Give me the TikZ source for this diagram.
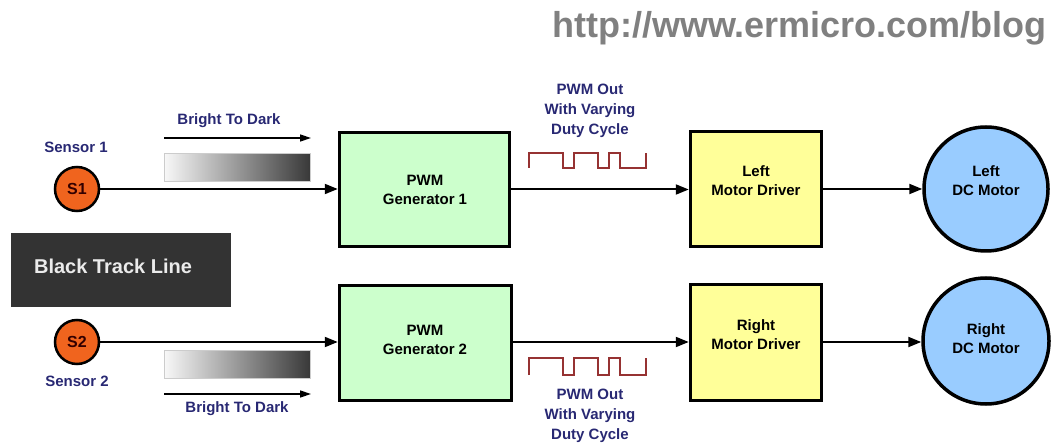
\documentclass[tikz,border=0pt]{standalone}
\usepackage{fontspec}
\setmainfont{Liberation Sans}
\usetikzlibrary{arrows.meta}
\definecolor{navytext}{RGB}{40,40,115}
\definecolor{sensorfill}{RGB}{240,100,30}
\definecolor{genfill}{RGB}{204,255,204}
\definecolor{drvfill}{RGB}{255,255,153}
\definecolor{motorfill}{RGB}{153,204,255}
\definecolor{trackfill}{RGB}{51,51,51}
\definecolor{wavecol}{RGB}{150,50,50}
\definecolor{urlgray}{RGB}{128,128,128}
\tikzset{
  lbl/.style={font=\fontsize{15}{19}\selectfont\bfseries, align=center, inner sep=0pt},
  navylbl/.style={lbl, text=navytext},
  blockbox/.style={draw=black, line width=3.5pt, inner sep=0pt},
  sensor/.style={circle, draw=black, line width=2.5pt, fill=sensorfill, minimum size=44pt, inner sep=0pt,
    font=\fontsize{16}{18}\selectfont\bfseries, text=black!80!red},
  motor/.style={circle, draw=black, line width=3.5pt, fill=motorfill, inner sep=0pt},
  conn/.style={line width=2pt, -{Triangle[length=13pt,width=10pt]}},
  thinarrow/.style={line width=1.5pt, -{Triangle[length=11pt,width=7pt]}},
  ramp/.style={draw=gray!40, line width=1pt, left color=gray!6, right color=black!78},
  wave/.style={draw=wavecol, line width=2pt}
}
\begin{document}
\begin{tikzpicture}[x=1pt,y=-1pt]
\useasboundingbox (0,0) rectangle (1051,443);

% site address
\node[font=\fontsize{36}{40}\selectfont\bfseries, text=urlgray, anchor=base east, inner sep=0pt]
  (url) at (1047,38) {http://www.ermicro.com/blog};

% track line
\node[fill=trackfill, minimum width=220pt, minimum height=74pt, inner sep=0pt] (track) at (121,270) {};
\node[font=\fontsize{20}{24}\selectfont\bfseries, text=black!8, inner sep=0pt] (tracktxt) at (113,266) {Black Track Line};

% sensors
\node[sensor] (s1) at (77,189) {S1};
\node[sensor] (s2) at (77,342) {S2};
\node[navylbl] (s1lbl) at (76,147) {Sensor 1};
\node[navylbl] (s2lbl) at (77,381) {Sensor 2};

% PWM generators
\node[blockbox, fill=genfill, minimum width=170pt, minimum height=114pt] (gen1) at (424.5,189.5) {};
\node[blockbox, fill=genfill, minimum width=172pt, minimum height=115pt] (gen2) at (425.5,343) {};
\node[lbl] (gen1txt) at (425,190) {PWM\\Generator 1};
\node[lbl] (gen2txt) at (425,340) {PWM\\Generator 2};

% motor drivers
\node[blockbox, fill=drvfill, minimum width=131pt, minimum height=115pt] (drv1) at (756,189) {};
\node[blockbox, fill=drvfill, minimum width=131pt, minimum height=116pt] (drv2) at (756,342.5) {};
\node[lbl] (drv1txt) at (756,181) {Left\\Motor Driver};
\node[lbl] (drv2txt) at (756,335) {Right\\Motor Driver};

% DC motors
\node[motor, minimum size=124pt] (mot1) at (986,189) {};
\node[motor, minimum size=126pt] (mot2) at (986,341) {};
\node[lbl] (mot1txt) at (986,181) {Left\\DC Motor};
\node[lbl] (mot2txt) at (986,339) {Right\\DC Motor};

% signal connectors
\draw[conn] (s1.east) -- (gen1.west |- s1.east);
\draw[conn] (s2.east) -- (gen2.west |- s2.east);
\draw[conn] (gen1.east) -- (drv1.west |- gen1.east);
\draw[conn] (gen2.east |- 0,342) -- (drv2.west |- 0,342);
\draw[conn] (drv1.east) -- (mot1.west);
\draw[conn] (drv2.east |- 0,342) -- (mot2.west |- 0,342);

% brightness ramps
\node[ramp, minimum width=146pt, minimum height=28pt, inner sep=0pt] (ramp1) at (237.5,167.5) {};
\node[ramp, minimum width=146pt, minimum height=28pt, inner sep=0pt] (ramp2) at (237.5,364.5) {};
\coordinate (r1a) at (164,138);
\coordinate (r1b) at (311,138);
\coordinate (r2a) at (164,394);
\coordinate (r2b) at (311,394);
\draw[thinarrow] (r1a) -- (r1b);
\draw[thinarrow] (r2a) -- (r2b);
\node[navylbl] (b2d1) at (229,121) {Bright To Dark};
\node[navylbl] (b2d2) at (237,409) {Bright To Dark};

% PWM waveforms
\draw[wave] (529,168) -- (529,153) -- (563,153) -- (563,168) -- (574,168) -- (574,153)
  -- (598,153) -- (598,168) -- (609,168) -- (609,153) -- (620,153) -- (620,168)
  -- (646,168) -- (646,153);
\draw[wave] (529,375) -- (529,358) -- (563,358) -- (563,375) -- (574,375) -- (574,358)
  -- (598,358) -- (598,375) -- (609,375) -- (609,358) -- (620,358) -- (620,375)
  -- (646,375) -- (646,358);
\node[navylbl, font=\fontsize{15}{20}\selectfont\bfseries] (pwm1) at (590,111) {PWM Out\\With Varying\\Duty Cycle};
\node[navylbl, font=\fontsize{15}{20}\selectfont\bfseries] (pwm2) at (590,416) {PWM Out\\With Varying\\Duty Cycle};
\end{tikzpicture}
\end{document}
